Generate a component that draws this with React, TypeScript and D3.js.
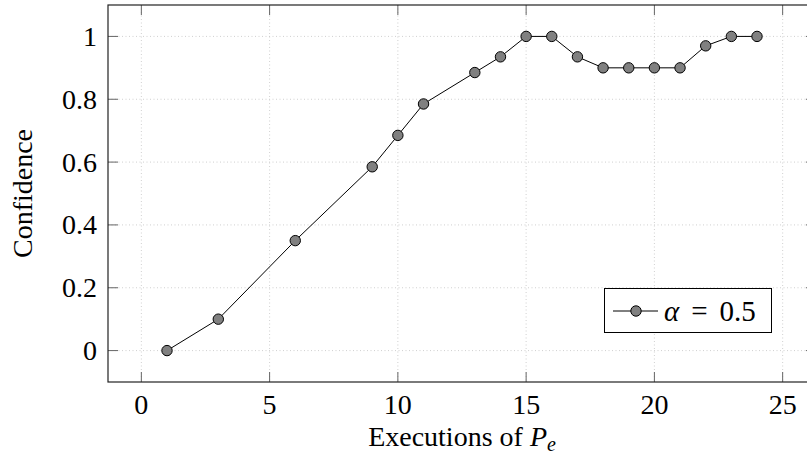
import React, { useEffect, useRef } from "react";
import * as d3 from "d3";

const executions = [1, 3, 6, 9, 10, 11, 13, 14, 15, 16, 17, 18, 19, 20, 21, 22, 23, 24];
const confidence = [0, 0.1, 0.35, 0.585, 0.685, 0.785, 0.885, 0.935, 1, 1, 0.935, 0.9, 0.9, 0.9, 0.9, 0.97, 1, 1];
const xTicks = [0, 5, 10, 15, 20, 25];
const yTicks = [0, 0.2, 0.4, 0.6, 0.8, 1];
const seriesLabel = "0.5";

const width = 807;
const height = 457;
const margin = { left: 108, top: 5, right: 816, bottom: 382 };
const font = "Liberation Serif, Times New Roman, serif";

const drawChart = (node: SVGSVGElement) => {
  const svg = d3.select(node);
  svg.selectAll("*").remove();

  const x = d3.scaleLinear().domain([-1.3, 26.3]).range([margin.left, margin.right]);
  const y = d3.scaleLinear().domain([-0.1, 1.1]).range([margin.bottom, margin.top]);

  // grid
  const grid = svg.append("g").attr("stroke", "#c4c4c4").attr("stroke-width", 0.8).attr("stroke-dasharray", "1,2.5");
  grid.selectAll("line.vx")
    .data(xTicks)
    .join("line")
      .attr("x1", d => x(d)).attr("x2", d => x(d))
      .attr("y1", margin.top).attr("y2", margin.bottom);
  grid.selectAll("line.hy")
    .data(yTicks)
    .join("line")
      .attr("class", "hy")
      .attr("x1", margin.left).attr("x2", margin.right)
      .attr("y1", d => y(d)).attr("y2", d => y(d));

  // ticks (inside, both sides)
  const ticks = svg.append("g").attr("stroke", "#666").attr("stroke-width", 1);
  const tl = 10;
  xTicks.forEach(t => {
    ticks.append("line").attr("x1", x(t)).attr("x2", x(t)).attr("y1", margin.bottom).attr("y2", margin.bottom - tl);
    ticks.append("line").attr("x1", x(t)).attr("x2", x(t)).attr("y1", margin.top).attr("y2", margin.top + tl);
  });
  yTicks.forEach(t => {
    ticks.append("line").attr("x1", margin.left).attr("x2", margin.left + tl).attr("y1", y(t)).attr("y2", y(t));
    ticks.append("line").attr("x1", margin.right).attr("x2", margin.right - tl).attr("y1", y(t)).attr("y2", y(t));
  });

  // frame
  svg.append("rect")
    .attr("x", margin.left).attr("y", margin.top)
    .attr("width", margin.right - margin.left).attr("height", margin.bottom - margin.top)
    .attr("fill", "none").attr("stroke", "#222").attr("stroke-width", 1.2);

  // tick labels
  svg.append("g")
      .style("font-family", font).attr("font-size", 28).attr("text-anchor", "middle")
    .selectAll("text")
    .data(xTicks)
    .join("text")
      .attr("x", d => x(d)).attr("y", 414)
      .text(d => d);
  svg.append("g")
      .style("font-family", font).attr("font-size", 28).attr("text-anchor", "end")
    .selectAll("text")
    .data(yTicks)
    .join("text")
      .attr("x", 97).attr("y", d => y(d)).attr("dy", "0.34em")
      .text(d => d3.format("~g")(d));

  // axis labels
  const xl = svg.append("text")
      .style("font-family", font).attr("font-size", 28).attr("text-anchor", "middle")
      .attr("x", (margin.left + margin.right) / 2).attr("y", 446);
  xl.append("tspan").text("Executions of ");
  xl.append("tspan").attr("font-style", "italic").text("P");
  xl.append("tspan").attr("font-style", "italic").attr("font-size", 20).attr("dy", 5).text("e");

  svg.append("text")
      .style("font-family", font).attr("font-size", 28).attr("text-anchor", "middle")
      .attr("transform", `translate(32,${(margin.top + margin.bottom) / 2}) rotate(-90)`)
      .text("Confidence");

  // series
  const pts = executions.map((e, i) => [e, confidence[i]] as [number, number]);
  const line = d3.line<[number, number]>().x(d => x(d[0])).y(d => y(d[1]));
  svg.append("path").datum(pts)
    .attr("d", line).attr("fill", "none").attr("stroke", "#000").attr("stroke-width", 1);
  svg.append("g").selectAll("circle")
    .data(pts)
    .join("circle")
      .attr("cx", d => x(d[0])).attr("cy", d => y(d[1])).attr("r", 5.2)
      .attr("fill", "#808080").attr("stroke", "#000").attr("stroke-width", 1);

  // legend
  const lg = svg.append("g");
  lg.append("rect").attr("x", 604.5).attr("y", 288.5).attr("width", 167).attr("height", 44)
    .attr("fill", "#fff").attr("stroke", "#000").attr("stroke-width", 1);
  lg.append("line").attr("x1", 613).attr("x2", 658).attr("y1", 311).attr("y2", 311).attr("stroke", "#000");
  lg.append("circle").attr("cx", 636).attr("cy", 311).attr("r", 5.2)
    .attr("fill", "#808080").attr("stroke", "#000");
  const lt = lg.append("text").style("font-family", font).attr("font-size", 29).attr("x", 664).attr("y", 321);
  lt.append("tspan").attr("font-style", "italic").text("α");
  lt.append("tspan").attr("dx", 12).text("=");
  lt.append("tspan").attr("dx", 12).text(seriesLabel);
};

const App = () => {
  const ref = useRef<SVGSVGElement>(null);
  useEffect(() => {
    if (ref.current) drawChart(ref.current);
  }, []);
  return (
    <div style={{ position: "fixed", left: 0, top: 0, background: "#fff" }}>
      <svg ref={ref} width={width} height={height} style={{ display: "block" }}></svg>
    </div>
  );
};

export default App;
